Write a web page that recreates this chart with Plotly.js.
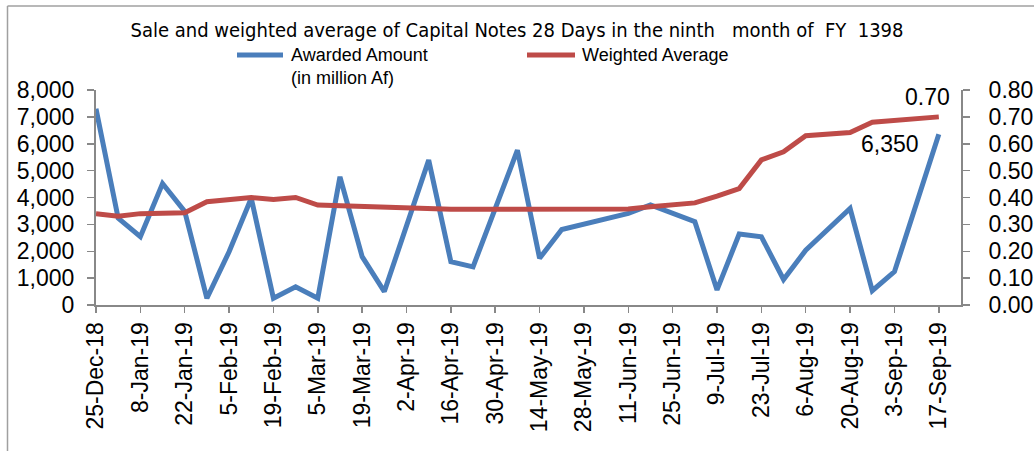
<!DOCTYPE html>
<html>
<head>
<meta charset="utf-8">
<script src="https://cdn.plot.ly/plotly-3.0.1.min.js"></script>
<style>html,body{margin:0;padding:0;background:#fff;}#chart{width:1034px;height:451px;}</style>
</head>
<body>
<div id="chart"></div>
<script>
// Auction dates (weekly, with gaps where no auction was plotted)
var dates = ["2018-12-25","2019-01-01","2019-01-08","2019-01-15","2019-01-22","2019-01-29","2019-02-05","2019-02-12","2019-02-19","2019-02-26","2019-03-05","2019-03-12","2019-03-19","2019-03-26","2019-04-09","2019-04-16","2019-04-23","2019-05-07","2019-05-14","2019-05-21","2019-06-11","2019-06-18","2019-07-02","2019-07-09","2019-07-16","2019-07-23","2019-07-30","2019-08-06","2019-08-20","2019-08-27","2019-09-03","2019-09-17"];
// Awarded amount, million Af
var awarded = [7300,3230,2540,4520,3480,250,1980,3970,250,680,250,4770,1800,500,5390,1610,1420,5760,1740,2810,3410,3720,3100,560,2640,2540,950,2040,3590,530,1240,6350];
// Weighted average rate
var weighted = [0.340,0.330,0.340,0.343,0.343,0.384,0.393,0.400,0.393,0.400,0.372,0.369,0.364,0.362,0.357,0.356,0.356,0.357,0.357,0.357,0.357,0.366,0.380,0.405,0.433,0.540,0.570,0.630,0.642,0.680,0.687,0.700];

var titleText = "Sale and weighted average of Capital Notes 28 Days in the ninth &nbsp; month of &nbsp;FY &nbsp;1398";
var legendBlue = "Awarded Amount<br>(in million Af)";
var legendRed = "Weighted Average";

var L = 96, R = 961, T = 90, B = 305;
function px(x){ return (x - L) / (R - L); }
function py(y){ return (B - y) / (B - T); }

var blue = "#4A7EBB", red = "#BE4B48", axisCol = "#888888";
var tickFont = {family: "Liberation Sans, Arial, sans-serif", size: 23, color: "#000"};

var traces = [
  {x: dates, y: awarded, type: "scatter", mode: "lines", name: "Awarded Amount (in million Af)",
   line: {color: blue, width: 5}, cliponaxis: false, showlegend: false, yaxis: "y"},
  {x: dates, y: weighted, type: "scatter", mode: "lines", name: "Weighted Average",
   line: {color: red, width: 5}, cliponaxis: false, showlegend: false, yaxis: "y2"}
];

var n = dates.length - 1;
var layout = {
  width: 1034, height: 451,
  margin: {l: L, r: 1034 - R, t: T, b: 451 - B},
  paper_bgcolor: "#fff", plot_bgcolor: "#fff",
  showlegend: false,
  title: {text: titleText, x: 0.5, xref: "container", xanchor: "center",
          y: 1 - 30/451, yref: "container", yanchor: "middle",
          font: {family: "Liberation Sans Narrow, DejaVu Sans Condensed, sans-serif", size: 20, color: "#000"}},
  xaxis: {type: "date", range: ["2018-12-25", "2019-09-24"], tick0: "2018-12-25", dtick: 14*86400000,
          tickformat: "%-d-%b-%y", tickangle: -90, showgrid: false, zeroline: false,
          showline: true, linecolor: axisCol, linewidth: 2, ticks: "outside", ticklen: 6, tickcolor: axisCol, tickwidth: 1.5,
          tickfont: tickFont},
  yaxis: {range: [0, 8000], dtick: 1000, tickformat: ",d", showgrid: false, zeroline: false,
          showline: true, linecolor: axisCol, linewidth: 2, ticks: "outside", ticklen: 7, tickcolor: axisCol, tickwidth: 1.5,
          ticklabelstandoff: 8, tickfont: tickFont},
  yaxis2: {range: [0, 0.8], dtick: 0.1, tickformat: ".2f", overlaying: "y", side: "right", showgrid: false, zeroline: false,
          showline: true, linecolor: axisCol, linewidth: 2, ticks: "outside", ticklen: 7, tickcolor: axisCol, tickwidth: 1.5,
          ticklabelstandoff: 14, tickfont: tickFont},
  annotations: [
    {x: dates[n], y: weighted[n], xref: "x", yref: "y2", text: "0.70", showarrow: false,
     xanchor: "right", yanchor: "middle", xshift: 13, yshift: 20, font: tickFont},
    {x: dates[n], y: awarded[n], xref: "x", yref: "y", text: "6,350", showarrow: false,
     xanchor: "right", yanchor: "middle", xshift: -18, yshift: -10, font: tickFont},
    {x: px(289), y: py(55), xref: "paper", yref: "paper", text: legendBlue, showarrow: false, align: "left",
     xanchor: "left", yanchor: "top", yshift: 12,
     font: {family: "Liberation Sans, Arial, sans-serif", size: 18, color: "#000"}},
    {x: px(580), y: py(55), xref: "paper", yref: "paper", text: legendRed, showarrow: false, align: "left",
     xanchor: "left", yanchor: "middle",
     font: {family: "Liberation Sans, Arial, sans-serif", size: 18, color: "#000"}}
  ],
  shapes: [
    {type: "line", xref: "paper", yref: "paper", x0: px(237), x1: px(283), y0: py(55), y1: py(55), line: {color: blue, width: 5}},
    {type: "line", xref: "paper", yref: "paper", x0: px(527), x1: px(575), y0: py(55), y1: py(55), line: {color: red, width: 5}},
    {type: "line", xref: "paper", yref: "paper", x0: px(7.5), x1: px(7.5), y0: py(6), y1: py(460), line: {color: "#A0A0A0", width: 1.5}},
    {type: "line", xref: "paper", yref: "paper", x0: px(7.5), x1: px(1040), y0: py(6), y1: py(6), line: {color: "#A0A0A0", width: 1.5}}
  ]
};

Plotly.newPlot("chart", traces, layout, {displayModeBar: false, staticPlot: true});
</script>
</body>
</html>
